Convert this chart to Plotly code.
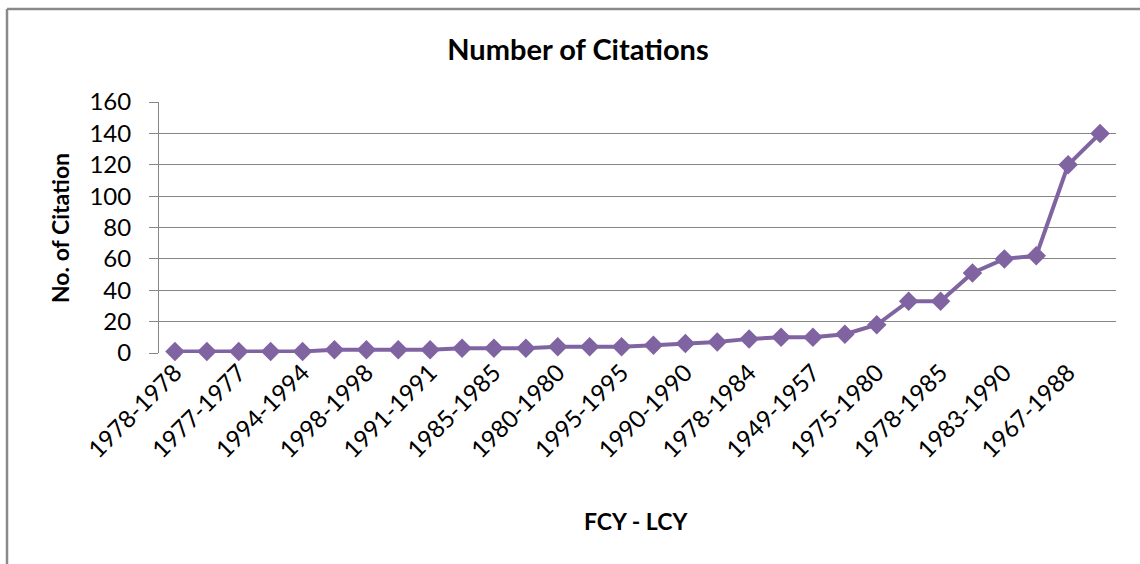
import plotly.graph_objects as go

# Data
tick_labels = ["1978-1978", "1977-1977", "1994-1994", "1998-1998", "1991-1991",
               "1985-1985", "1980-1980", "1995-1995", "1990-1990", "1978-1984",
               "1949-1957", "1975-1980", "1978-1985", "1983-1990", "1967-1988"]
citations = [1, 1, 1, 1, 1, 2, 2, 2, 2, 3, 3, 3, 4, 4, 4, 5, 6, 7, 9, 10,
             10, 12, 18, 33, 33, 51, 60, 62, 120, 140]
positions = list(range(len(citations)))
tick_positions = positions[::2]

FONT = "Lato"
PURPLE = "#8064A2"
GRID = "#868686"

W, H = 1140, 564
L, R, T, B = 159, 1116, 102, 353  # plot area in pixels
pw, ph = R - L, B - T

def px_x(x):
    return (x - L) / pw

def px_y(y):
    return (B - y) / ph

fig = go.Figure()
fig.add_trace(go.Scatter(
    x=positions, y=citations, mode="lines+markers",
    line=dict(color=PURPLE, width=4),
    marker=dict(symbol="diamond", size=15, color=PURPLE),
    cliponaxis=False, showlegend=False,
))

fig.update_layout(
    width=W, height=H,
    margin=dict(l=L, r=W - R, t=T, b=H - B),
    paper_bgcolor="white", plot_bgcolor="white",
    font=dict(family=FONT, color="black"),
    title=dict(text="<b>Number of Citations</b>", x=578 / W, xref="container",
               xanchor="center", y=1 - 50 / H, yref="container", yanchor="middle",
               font=dict(family=FONT, size=29, color="black")),
    xaxis=dict(range=[-0.5, len(citations) - 0.5], tickmode="array",
               tickvals=tick_positions, ticktext=tick_labels, tickangle=-45,
               showgrid=False, zeroline=False, showline=False, ticks="",
               tickfont=dict(family=FONT, size=24, color="black")),
    yaxis=dict(range=[0, 160], dtick=20, showgrid=True, gridcolor=GRID, gridwidth=1,
               zeroline=False, showline=True, linecolor=GRID, linewidth=1,
               ticks="outside", ticklen=9, tickcolor=GRID,
               ticklabelstandoff=13,
               tickfont=dict(family=FONT, size=24, color="black")),
    annotations=[
        dict(text="<b>No. of Citation</b>", x=px_x(60), y=px_y(228), xref="paper", yref="paper",
             textangle=-90, showarrow=False, xanchor="center", yanchor="middle",
             font=dict(family=FONT, size=23, color="black")),
        dict(text="<b>FCY - LCY</b>", x=px_x(636), y=px_y(521), xref="paper", yref="paper",
             showarrow=False, xanchor="center", yanchor="middle",
             font=dict(family=FONT, size=23, color="black")),
    ],
    shapes=[
        dict(type="line", xref="paper", yref="paper", x0=px_x(7), x1=px_x(1145),
             y0=px_y(9), y1=px_y(9), line=dict(color="#8A8A8A", width=2.5)),
        dict(type="line", xref="paper", yref="paper", x0=px_x(7), x1=px_x(7),
             y0=px_y(9), y1=px_y(570), line=dict(color="#8A8A8A", width=2.5)),
    ],
)

fig.write_html("out.html", config={"displayModeBar": False},
               post_script="document.body.style.margin='0';")
